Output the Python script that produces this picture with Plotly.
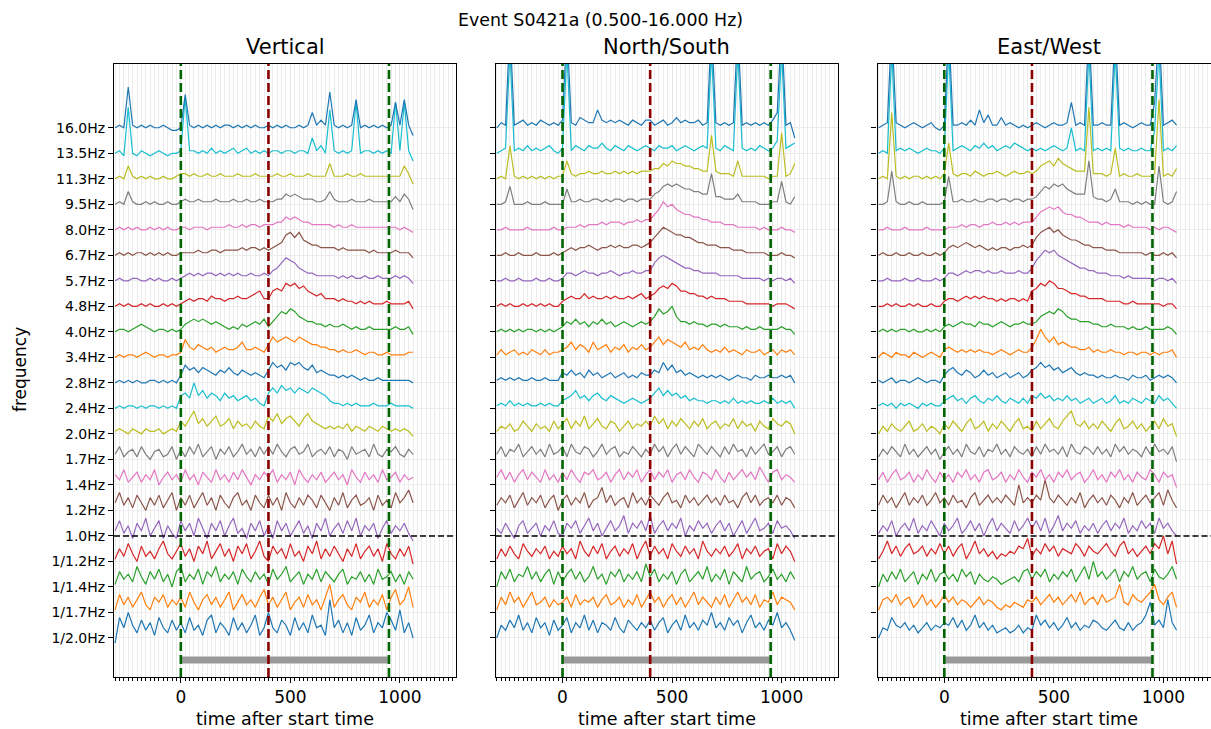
import plotly.graph_objects as go

# ---------------- data ----------------
TIME = list(range(-300, 1061, 20))  # sample times (s after start), 69 samples
FREQ_LABELS = ["1/2.0Hz", "1/1.7Hz", "1/1.4Hz", "1/1.2Hz", "1.0Hz", "1.2Hz", "1.4Hz",
               "1.7Hz", "2.0Hz", "2.4Hz", "2.8Hz", "3.4Hz", "4.0Hz", "4.8Hz", "5.7Hz",
               "6.7Hz", "8.0Hz", "9.5Hz", "11.3Hz", "13.5Hz", "16.0Hz"]
ONE_HZ_INDEX = 4
EVENT_TIMES = [0, 400, 950]
EVENT_COLORS = ["#006400", "#8b0000", "#006400"]
BAR_START, BAR_END = 0, 950
PANEL_TITLES = ["Vertical", "North/South", "East/West"]
SUPTITLE = "Event S0421a (0.500-16.000 Hz)"

# envelope values in tenths of the trace spacing, one list per frequency band
# ---- Vertical ----
V00 = [-2,8,4,10,5,2,7,3,6,1,8,4,2,7,3] + [6,2,8,3,5,1,7,9,2,6,4,1,8,3,6,2,5,9,1,4] + [10,4,2,7,5,1,8,3,6,2,9,4,5,1,15] + [4,7,2,6,1,8,3,5,9,2,6,4,10,7,3,11,2,6,0]
V01 = [1,7,3,6,2,5,8,3,1,6,4,7,2,5,3] + [6,2,8,4,1,5,7,3,6,2,5,8,1,4,7,3,5,2,6,9] + [3,6,2,5,8,1,4,6,2,7,3,5,1,6,11] + [2,5,7,3,1,6,4,8,2,5,3,7,1,6,9,3,5,10,2]
V02 = [1,6,3,5,2,8,4,1,6,3,7,2,5,0,6] + [8,2,5,3,7,1,6,4,8,2,5,3,6,1,7,4,2,6,3,5] + [1,7,3,5,8,2,4,6,1,5,3,7,2,6,4] + [2,5,7,1,4,3,6,2,5,1,7,3,4,6,2,5,1,6,3]
V03 = [1,5,2,7,3,0,6,2,4,1,5,8,3,1,4] + [7,2,5,0,6,3,8,1,4,7,2,5,0,6,3,7,1,4,8,2] + [0,6,3,5,1,7,2,4,0,6,3,8,1,5,2] + [6,3,0,5,2,7,1,4,6,2,5,0,7,3,1,5,2,6,-1]
V04 = [2,6,1,4,-1,5,2,7,0,3,6,-1,4,1,-1] + [6,2,5,0,7,3,-1,5,2,6,0,4,7,1,3,-1,5,2,6,0] + [4,-1,6,2,5,0,3,6,1,4,-1,5,2,7,0] + [3,5,1,6,2,7,0,4,2,5,-1,3,6,1,4,2,5,1,-2]
V05 = [3,7,2,5,1,6,3,0,5,2,6,1,4,7,0] + [5,2,6,1,4,7,2,5,0,6,3,1,5,7,2,4,0,6,3,1] + [6,2,5,0,7,3,1,5,2,6,4,1,6,3,0] + [5,2,7,1,4,6,2,3,5,0,6,2,4,1,7,3,5,8,3]
V06 = [4,2,6,1,3,5,1,4,2,6,0,3,5,2,4] + [1,6,2,4,0,5,3,1,6,2,4,1,5,2,6,3,0,4,2,5] + [3,6,1,4,2,5,0,6,3,1,4,2,5,1,3] + [5,2,4,0,6,3,1,5,2,4,1,6,2,3,5,1,4,2,3]
V07 = [2,5,1,3,4,1,5,2,0,3,4,1,2,5,0] + [4,1,5,2,6,1,3,5,0,4,2,5,1,3,6,2,4,1,5,2] + [5,2,6,3,1,4,5,2,3,6,1,3,4,2,5] + [1,4,3,0,5,2,3,4,1,6,2,1,4,3,5,2,1,4,2]
V08 = [1,2,1,0,2,1,0,2,1,1,2,0,1,2,1] + [5,3,6,9,4,6,3,5,7,3,4,6,2,5,3,4,2,5,3,2] + [7,5,8,4,6,7,5,3,6,8,5,4,3,2,3] + [2,3,2,4,1,3,2,1,3,2,1,3,2,1,2,1,2,1,-1]
V09 = [0,1,0,1,1,0,1,0,1,1,0,1,0,1,0] + [5,6,4,10,5,7,4,6,5,3,6,4,5,3,4,5,3,4,2,1] + [6,8,6,9,7,8,6,8,7,6,8,7,6,5,3] + [2,2,1,2,1,2,1,1,1,2,1,1,1,2,1,1,1,1,0]
V10 = [0,1,0,1,0,1,0,0,1,1,0,1,0,1,0] + [3,7,5,6,4,6,5,4,3,5,4,6,4,3,5,4,3,4,3,2] + [5,8,6,7,5,8,7,8,6,5,7,4,5,4,3] + [3,2,3,2,3,2,1,2,1,1,2,1,1,1,1,1,1,1,0]
V11 = [0,1,0,1,1,0,1,2,1,0,1,1,0,1,1] + [2,7,4,3,5,4,3,4,2,3,4,3,3,4,6,3,3,4,3,2] + [5,8,6,7,8,7,6,8,7,6,5,5,4,4,3] + [3,2,3,2,2,3,2,1,2,2,1,1,2,1,1,1,1,2,2]
V12 = [0,1,1,0,1,2,3,2,1,0,1,1,0,1,0] + [1,3,4,5,4,5,4,3,4,3,2,1,2,1,3,2,3,4,3,5] + [2,4,6,8,7,9,8,6,5,4,4,3,3,2,3] + [2,2,3,2,1,2,1,1,2,1,1,1,1,1,2,1,1,2,-1]
V13 = [0,1,0,1,0,0,1,0,1,0,0,1,0,1,0] + [1,2,3,2,3,3,2,4,3,3,2,3,3,4,3,3,4,5,6,3] + [3,6,7,6,9,8,9,7,8,6,5,4,5,3,3] + [3,2,3,2,2,1,2,1,2,1,1,1,2,1,1,1,1,2,-1]
V14 = [0,1,0,0,1,1,0,0,1,0,1,0,0,1,0] + [1,2,3,2,3,2,3,3,2,3,2,3,2,3,2,2,3,2,2,3] + [2,4,5,7,9,8,7,5,4,3,3,2,2,2,2] + [2,1,2,1,2,1,1,2,1,1,2,1,1,1,2,1,2,1,-1]
V15 = [0,1,0,1,0,1,1,0,1,0,1,0,1,0,0] + [1,1,1,1,2,1,1,2,2,1,2,2,2,2,3,2,3,3,2,3] + [2,3,4,5,8,9,7,9,6,5,4,4,3,3,3] + [3,2,3,2,2,2,2,2,1,2,1,1,1,1,2,1,1,1,-1]
V16 = [0,1,0,1,0,1,0,0,1,0,1,0,1,0,0] + [1,1,0,1,1,1,0,1,1,1,1,2,1,1,2,1,2,2,1,2] + [2,2,3,3,5,4,5,4,3,3,2,2,2,2,2] + [1,2,1,1,2,1,1,1,1,1,1,1,1,1,1,0,1,0,-1]
V17 = [0,1,0,5,1,0,0,1,0,1,0,0,1,0,0] + [1,2,1,1,2,1,1,1,2,1,1,1,2,1,1,2,1,1,2,1] + [1,1,2,2,4,3,4,3,2,2,2,1,1,2,5] + [2,1,1,1,2,1,1,1,2,1,1,1,1,1,3,1,4,2,-2]
V18 = [0,1,0,5,1,0,1,0,1,0,0,1,0,0,1] + [2,2,1,2,1,1,2,1,1,2,1,1,1,2,1,1,1,2,1,1] + [1,1,2,1,1,2,1,1,1,2,1,1,1,1,6] + [1,1,1,2,1,1,2,1,1,1,1,1,1,1,1,1,5,2,-2]
V19 = [0,1,-1,18,0,-1,1,0,-1,0,1,0,-1,0,0] + [1,22,1,1,0,1,0,2,0,1,0,1,2,0,1,2,0,1,0,1] + [0,1,1,0,1,1,0,1,1,0,6,1,3,0,17] + [1,0,1,0,1,20,0,1,1,0,1,0,1,0,20,1,20,1,-3]
V20 = [0,1,0,16,1,0,1,0,1,0,0,1,0,-1,-1] + [0,13,1,0,1,0,1,0,1,0,1,1,0,1,0,1,0,1,0,0] + [1,0,1,0,1,0,0,1,0,1,6,1,3,1,14] + [1,0,1,0,1,11,0,1,0,1,0,1,0,1,10,1,11,1,-3]

# ---- North/South ----
N00 = [0,5,3,7,4,9,3,6,2,8,4,6,1,7,3] + [5,8,2,6,4,9,3,7,2,6,5,3,8,4,2,7,5,3,6,4] + [7,3,6,8,2,5,7,3,9,4,6,3,7,5,10] + [4,6,3,8,5,7,2,6,9,4,6,3,7,5,10,4,6,3,-1]
N01 = [1,6,3,8,4,6,2,5,8,3,4,6,2,5,3] + [4,6,2,7,3,5,4,6,2,5,7,3,4,6,2,5,3,7,2,5] + [8,4,6,2,5,7,3,6,2,5,8,3,6,4,2] + [6,3,7,2,5,8,4,6,3,7,2,5,4,8,3,6,5,4,1]
N02 = [0,6,3,7,2,5,4,8,3,6,2,5,7,1,6] + [2,5,7,3,6,2,4,8,3,5,1,6,4,7,2,5,3,6,2,9] + [4,7,2,5,3,6,1,5,7,2,4,6,3,8,2] + [5,3,7,1,6,4,2,8,3,5,6,2,4,7,3,5,2,6,3]
N03 = [1,5,2,6,3,1,7,4,2,5,3,6,1,4,2] + [6,3,5,1,8,4,2,6,3,7,1,4,6,2,5,3,7,1,5,8] + [2,6,3,5,1,7,4,2,6,3,5,1,8,4,2] + [5,3,6,2,4,7,1,5,3,6,2,4,5,1,7,3,6,4,0]
N04 = [3,1,5,2,-1,4,6,1,3,5,0,4,2,6,1] + [0,5,3,6,1,4,7,2,5,0,3,6,2,4,8,1,5,3,6,2] + [8,1,4,6,2,5,3,7,0,4,2,6,3,5,1] + [4,6,2,5,0,3,6,1,4,7,2,3,5,1,6,3,4,2,-1]
N05 = [2,5,3,6,1,4,7,2,5,3,6,1,4,6,0] + [4,6,2,5,3,7,1,4,5,9,3,6,2,4,5,1,7,3,5,2] + [6,4,2,5,7,3,4,1,6,3,5,2,4,6,3] + [5,2,6,3,4,1,5,7,3,6,2,4,5,3,6,2,5,4,1]
N06 = [3,6,2,5,1,4,6,2,5,3,1,6,2,4,1] + [5,2,6,3,1,5,4,6,2,3,5,1,4,6,2,5,3,6,1,4] + [6,2,5,3,6,1,4,5,2,6,3,1,5,4,2] + [6,3,1,5,2,4,6,3,5,2,7,4,1,5,6,2,4,3,1]
N07 = [2,5,1,4,3,6,1,3,5,2,4,1,6,2,3] + [5,1,6,3,2,5,4,1,3,6,2,4,5,1,3,2,5,3,1,4] + [2,6,3,5,1,4,6,2,5,3,1,6,4,2,5] + [3,1,5,2,6,3,4,1,5,2,4,6,2,3,5,1,4,5,2]
N08 = [1,3,2,4,1,2,5,3,1,4,2,3,1,5,2] + [4,6,2,5,3,7,2,4,6,3,2,5,4,1,3,5,2,4,3,5] + [3,7,4,6,2,5,3,6,4,2,5,3,6,2,4] + [5,2,4,3,6,2,5,3,4,1,5,3,2,6,4,3,5,4,0]
N09 = [1,2,1,3,1,2,1,2,1,1,2,1,2,1,1] + [3,4,5,7,4,5,3,5,6,4,3,5,4,3,2,3,4,3,2,3] + [4,6,8,5,7,5,6,4,5,3,4,3,3,2,3] + [3,2,3,2,4,2,3,2,3,2,2,3,2,4,2,3,2,3,0]
N10 = [1,2,1,2,1,2,1,1,2,1,1,2,1,1,1] + [4,3,5,3,4,2,5,3,4,2,3,4,2,3,4,2,3,2,4,3] + [3,5,4,8,5,7,4,5,3,4,3,2,3,2,3] + [2,3,2,1,2,3,2,2,1,3,2,2,3,2,2,3,2,3,0]
N11 = [1,3,1,2,3,1,2,1,3,2,1,3,1,2,2] + [3,4,6,3,5,4,2,6,3,4,5,2,4,3,5,2,4,3,5,3] + [4,6,8,5,7,6,5,4,6,3,4,3,5,3,2] + [3,2,4,2,3,2,1,3,2,2,3,1,2,3,1,3,2,3,1]
N12 = [0,1,0,1,0,1,0,1,1,0,1,0,1,0,1] + [2,4,3,5,3,4,2,4,3,5,3,4,2,3,4,3,2,3,4,3] + [4,6,9,7,8,10,6,4,4,3,4,3,3,2,3] + [3,2,3,2,2,2,1,2,1,1,2,1,1,1,1,2,1,1,-1]
N13 = [0,1,0,1,0,0,1,0,1,0,1,0,1,0,0] + [2,3,4,3,3,5,3,4,3,3,4,3,4,3,3,4,3,4,5,3] + [4,5,7,8,7,9,8,6,6,5,5,4,4,3,4] + [3,3,3,2,2,2,2,1,1,1,1,1,1,0,1,1,1,0,-1]
N14 = [0,0,1,0,0,1,0,0,0,1,0,0,1,0,0] + [1,3,3,2,3,4,3,3,2,3,3,4,3,2,3,3,4,3,3,4] + [4,7,9,10,9,8,7,6,5,5,4,4,3,3,3] + [3,2,2,2,2,2,1,1,1,1,1,0,1,0,1,1,0,1,-1]
N15 = [0,0,1,0,0,1,0,0,0,1,0,0,0,1,0] + [1,2,3,2,3,3,4,3,2,3,3,4,3,4,3,3,4,4,3,4] + [5,7,9,11,10,9,8,8,7,7,6,5,5,4,4] + [4,3,3,3,2,2,2,1,1,1,1,1,0,0,0,1,0,0,-1]
N16 = [0,0,1,0,0,0,0,1,0,0,0,0,0,1,0] + [0,1,1,1,2,1,2,2,2,3,2,3,3,3,2,3,3,4,3,4] + [4,6,8,11,9,10,8,7,6,6,5,5,4,4,3] + [3,3,2,2,2,1,1,1,1,1,0,1,0,0,0,1,0,0,-1]
N17 = [0,0,1,7,0,0,0,1,0,0,0,1,0,0,0] + [0,6,1,1,2,1,1,2,2,1,2,1,2,2,1,2,2,1,2,2] + [2,4,5,7,8,7,8,7,6,6,5,5,4,4,12] + [3,3,2,2,2,4,1,1,1,1,0,0,0,1,1,9,1,0,3]
N18 = [0,1,0,13,1,0,1,0,1,0,1,0,1,0,1] + [1,7,2,1,2,2,3,2,2,3,2,2,3,2,3,2,3,2,3,3] + [3,4,4,6,5,7,6,6,5,5,4,4,3,3,17] + [3,2,2,2,1,7,1,1,1,1,1,1,0,1,1,18,1,2,6]
N19 = [0,1,2,40,1,2,1,3,1,2,1,2,3,1,0] + [2,40,1,3,2,1,3,2,2,4,2,1,3,2,1,3,2,1,2,3] + [2,1,3,2,2,3,1,2,3,2,1,2,3,2,40] + [2,1,3,2,1,40,2,1,2,1,3,2,1,2,5,40,2,3,4]
N20 = [0,2,1,40,1,2,3,1,2,1,3,2,1,2,1] + [3,40,2,1,4,3,2,2,7,3,2,3,2,3,2,1,3,2,1,3] + [3,1,2,3,1,2,4,2,3,2,2,3,1,2,40] + [2,1,2,1,2,40,1,2,1,2,1,2,1,3,6,40,1,2,-4]

# ---- East/West ----
E00 = [0,4,3,8,5,4,6,3,5,2,4,6,3,5,4] + [6,5,8,4,7,3,5,9,4,6,3,5,2,3,4,2,3,5,2,4] + [3,9,5,7,4,6,3,5,8,4,6,3,5,4,7] + [6,4,3,5,7,4,3,6,3,5,6,9,14,5,7,4,15,6,3]
E01 = [1,5,6,4,7,3,5,6,2,4,7,3,5,2,4] + [7,4,6,3,5,4,2,4,6,3,5,4,2,1,3,2,4,3,2,5] + [4,6,3,5,7,4,6,3,5,7,4,8,3,5,6] + [3,7,4,5,6,11,4,3,7,5,4,6,8,11,5,3,6,8,2]
E02 = [0,5,2,6,3,7,2,4,6,1,5,3,7,2,5] + [6,3,5,2,7,4,6,1,5,3,2,4,3,1,2,3,4,2,6,7] + [3,6,4,7,2,5,3,6,4,7,2,5,8,3,10] + [4,6,3,5,7,2,6,4,8,3,5,6,2,7,4,3,5,8,3]
E03 = [1,4,8,3,6,2,5,7,3,4,6,2,5,3,7] + [3,6,2,5,7,1,4,8,3,5,2,4,1,3,2,4,3,6,5,9] + [2,5,3,7,4,6,2,5,4,3,7,5,2,6,4] + [3,5,7,4,2,6,8,3,5,2,4,6,3,7,5,10,3,8,-1]
E04 = [1,4,2,6,0,3,5,2,7,1,4,2,6,3,0] + [5,2,4,7,1,3,6,2,5,0,4,7,2,5,3,1,6,2,4,7] + [3,6,2,7,1,4,8,2,5,3,6,1,4,2,5] + [1,4,6,2,5,3,7,1,4,2,6,3,5,1,7,3,5,2,0]
E05 = [2,6,3,5,1,4,7,2,5,3,6,2,4,7,3] + [5,2,6,3,4,1,5,7,2,4,6,3,5,3,6,4,2,10,3,5] + [3,6,4,12,5,3,6,4,2,5,3,7,1,4,6] + [3,5,2,6,4,1,5,3,7,2,4,6,3,5,7,2,8,4,1]
E06 = [2,5,1,4,6,2,3,5,1,4,2,6,3,1,5] + [2,4,1,5,3,6,2,4,1,5,6,2,3,5,1,4,2,6,3,1] + [5,3,6,2,4,1,5,3,6,2,4,5,1,3,6] + [2,4,1,5,3,6,2,4,1,5,3,2,6,4,1,5,3,4,-1]
E07 = [1,4,2,5,3,1,6,2,4,1,3,5,2,4,0] + [3,5,2,4,1,6,3,2,5,1,4,3,6,2,4,1,5,3,2,4] + [1,5,2,6,3,4,2,5,1,6,3,2,5,4,2] + [5,2,4,1,6,3,5,2,4,3,1,5,2,6,3,4,2,5,-1]
E08 = [0,3,1,4,2,1,3,5,1,2,4,1,3,2,0] + [4,2,5,3,1,4,6,2,3,5,1,4,2,5,3,1,4,6,2,3] + [1,5,2,4,6,3,2,5,7,9,4,3,5,2,4] + [2,5,3,1,4,6,2,3,5,2,4,1,3,5,2,6,3,4,-1]
E09 = [1,2,1,2,0,2,1,2,1,0,2,1,2,1,1] + [3,4,5,3,4,2,4,5,3,2,4,3,5,3,2,4,3,2,4,2] + [5,4,6,4,5,3,4,3,5,3,4,2,3,4,2] + [3,4,2,3,5,2,3,2,4,3,2,4,3,2,5,3,4,2,0]
E10 = [1,0,1,2,0,1,1,0,1,2,1,0,1,1,0] + [3,5,6,4,3,5,4,2,3,5,3,4,2,3,4,2,3,4,2,3] + [5,6,8,6,7,5,6,4,5,6,4,3,4,3,3] + [2,3,2,2,3,2,2,1,3,2,2,3,1,2,3,2,3,2,0]
E11 = [0,2,1,0,2,1,1,0,2,1,0,1,2,1,0] + [3,4,3,2,3,2,3,2,3,2,2,1,2,3,2,1,2,3,2,2] + [4,7,11,8,6,8,5,6,5,4,4,3,3,4,2] + [3,2,2,3,2,2,1,2,2,1,2,2,1,2,1,2,2,3,0]
E12 = [0,1,0,1,0,1,1,0,1,0,0,1,0,1,0] + [2,3,2,3,4,3,3,2,4,3,3,2,3,4,3,2,3,3,4,3] + [3,4,6,7,8,7,9,8,6,5,5,4,4,4,3] + [3,2,2,3,2,2,2,1,2,1,1,2,1,1,1,1,2,1,-1]
E13 = [0,0,1,0,1,0,0,1,0,1,0,0,1,0,0] + [2,3,3,2,3,4,3,4,3,4,3,3,2,3,2,3,3,2,3,2] + [6,7,9,8,10,9,7,7,6,5,5,4,4,3,3] + [3,3,2,2,2,2,1,1,2,1,1,1,1,1,1,0,1,1,-1]
E14 = [0,0,1,0,0,0,1,0,0,1,0,0,0,1,0] + [1,3,3,2,3,4,3,4,4,3,4,3,3,4,3,3,3,4,3,3] + [5,8,10,12,11,12,10,9,8,7,6,5,5,4,4] + [3,3,3,2,2,2,1,2,1,1,1,1,1,0,1,1,0,1,-1]
E15 = [0,1,0,0,1,0,0,1,0,0,1,0,0,1,0] + [1,3,4,3,4,5,4,3,4,3,2,3,2,3,3,2,3,3,4,3] + [4,7,9,10,11,9,10,8,7,6,6,5,4,4,3] + [3,3,2,2,2,1,1,1,1,1,1,0,1,0,0,1,0,1,-1]
E16 = [0,0,1,0,0,0,1,0,0,0,0,1,0,0,0] + [0,1,1,1,2,1,2,2,1,2,2,3,2,2,3,2,3,2,3,3] + [3,5,7,8,9,8,9,7,6,6,5,5,4,3,3] + [3,2,3,2,2,2,1,2,1,1,1,1,0,1,0,1,1,0,-1]
E17 = [0,0,1,13,1,0,0,1,0,0,1,0,0,0,0] + [1,11,1,1,2,1,1,2,1,1,2,2,1,2,2,1,2,2,1,2] + [2,3,5,7,6,8,7,8,6,5,4,4,4,17,3] + [2,2,1,2,6,1,1,1,0,1,0,1,0,0,15,1,0,1,5]
E18 = [0,1,0,26,1,0,1,0,1,1,0,1,0,1,0] + [2,14,2,1,2,2,1,3,2,1,2,2,3,2,1,2,3,2,2,3] + [2,3,5,6,7,5,8,6,5,4,3,3,3,28,2] + [2,2,1,2,12,1,2,1,1,2,1,1,1,2,31,1,2,1,4]
E19 = [0,1,0,40,1,2,1,2,1,0,1,2,1,1,0] + [2,40,1,2,3,2,1,3,2,4,2,3,1,2,3,2,4,3,2,1] + [2,1,2,1,2,3,2,1,2,10,1,2,1,40,1] + [2,1,2,1,40,2,1,2,1,1,2,1,1,9,40,1,2,1,3]
E20 = [0,1,2,40,2,1,0,1,2,1,0,1,2,0,-1] + [1,40,1,1,2,1,3,1,7,2,5,1,1,4,1,2,1,0,1,0] + [1,2,1,0,1,2,1,1,2,10,1,2,1,40,1] + [1,2,1,1,40,1,2,1,0,1,2,1,1,10,40,1,2,3,1]

VERTICAL = [V00, V01, V02, V03, V04, V05, V06, V07, V08, V09, V10,
            V11, V12, V13, V14, V15, V16, V17, V18, V19, V20]
NORTHSOUTH = [N00, N01, N02, N03, N04, N05, N06, N07, N08, N09, N10,
              N11, N12, N13, N14, N15, N16, N17, N18, N19, N20]
EASTWEST = [E00, E01, E02, E03, E04, E05, E06, E07, E08, E09, E10,
            E11, E12, E13, E14, E15, E16, E17, E18, E19, E20]

bad = [(p, i, len(r)) for p, rows in (("V", VERTICAL), ("N", NORTHSOUTH), ("E", EASTWEST))
       for i, r in enumerate(rows) if len(r) != len(TIME)]
assert not bad, f"length mismatch: {bad}"

# ---------------- styling ----------------
TAB10 = ["#1f77b4", "#ff7f0e", "#2ca02c", "#d62728", "#9467bd",
         "#8c564b", "#e377c2", "#7f7f7f", "#bcbd22", "#17becf"]
W, H = 1211, 729
FONT = "DejaVu Sans"
X_RANGE = [-305, 1256]
PX_PER_UNIT = 342 / (X_RANGE[1] - X_RANGE[0])
Y_RANGE = [-1.53, 22.5]
BAR_LEVEL = -0.86
PANEL_LEFT_PX = [114, 495.7, 877.5]
PANEL_W_PX = 342
Y_DOM = [1 - 677 / H, 1 - 64 / H]

fig = go.Figure()
panels = [VERTICAL, NORTHSOUTH, EASTWEST]
for p, rows in enumerate(panels):
    xa = "x" if p == 0 else f"x{p+1}"
    ya = "y" if p == 0 else f"y{p+1}"
    for i, row in enumerate(rows):
        fig.add_trace(go.Scatter(
            x=TIME, y=[i + v / 10 for v in row], mode="lines",
            line=dict(color=TAB10[i % 10], width=1.2),
            xaxis=xa, yaxis=ya, showlegend=False, hoverinfo="skip"))
    fig.add_trace(go.Scatter(
        x=[BAR_START, BAR_END], y=[BAR_LEVEL, BAR_LEVEL], mode="lines",
        line=dict(color="#999999", width=7), xaxis=xa, yaxis=ya,
        showlegend=False, hoverinfo="skip"))
    for t, c in zip(EVENT_TIMES, EVENT_COLORS):
        fig.add_shape(type="line", xref=xa, yref=f"{ya} domain", x0=t, x1=t, y0=0, y1=1,
                      line=dict(color=c, width=2.6, dash="9px,4px"))
    fig.add_shape(type="line", xref=f"{xa} domain", yref=ya, x0=0, x1=1,
                  y0=ONE_HZ_INDEX, y1=ONE_HZ_INDEX,
                  line=dict(color="black", width=1.4, dash="6px,3px"))

    left = PANEL_LEFT_PX[p]
    right = left + PANEL_W_PX
    xr = list(X_RANGE)
    if right > W:
        xr[1] = X_RANGE[0] + (W - left) / PX_PER_UNIT
        right = W
    xkey = "xaxis" if p == 0 else f"xaxis{p+1}"
    ykey = "yaxis" if p == 0 else f"yaxis{p+1}"
    fig.layout[xkey] = dict(
        domain=[left / W, right / W], range=xr, anchor=ya,
        tickvals=[0, 500, 1000], ticks="outside", ticklen=5, tickwidth=1, tickcolor="black",
        showgrid=True, gridcolor="#e6e6e6", gridwidth=0.6,
        minor=dict(dtick=20, tick0=0, ticks="outside", ticklen=3, tickcolor="black",
                   showgrid=True, gridcolor="#ececec", gridwidth=0.6),
        showline=True, linecolor="black", linewidth=1.1, mirror=True,
        zeroline=False, tickfont=dict(family=FONT, size=17, color="black"))
    fig.layout[ykey] = dict(
        domain=Y_DOM, range=Y_RANGE, anchor=xa,
        tickvals=list(range(len(FREQ_LABELS))), ticktext=FREQ_LABELS,
        showticklabels=(p == 0), ticks="outside", ticklen=5, tickwidth=1, tickcolor="black",
        showgrid=True, gridcolor="#ececec", gridwidth=0.6,
        showline=True, linecolor="black", linewidth=1.1, mirror=(p < 2),
        zeroline=False, tickfont=dict(family=FONT, size=14, color="black"))

annotations = [dict(text=SUPTITLE, x=600 / W, y=1 - 20 / H, xref="paper", yref="paper",
                    showarrow=False, xanchor="center", yanchor="middle",
                    font=dict(family=FONT, size=17.4, color="black"))]
for p, title in enumerate(PANEL_TITLES):
    cx = (PANEL_LEFT_PX[p] + PANEL_W_PX / 2) / W
    annotations.append(dict(text=title, x=cx, y=1 - 47 / H, xref="paper", yref="paper",
                            showarrow=False, xanchor="center", yanchor="middle",
                            font=dict(family=FONT, size=21, color="black")))
    annotations.append(dict(text="time after start time", x=cx, y=1 - 719 / H,
                            xref="paper", yref="paper", showarrow=False,
                            xanchor="center", yanchor="middle",
                            font=dict(family=FONT, size=17.5, color="black")))
annotations.append(dict(text="frequency", x=20 / W, y=1 - 370 / H, xref="paper", yref="paper",
                        showarrow=False, textangle=-90, xanchor="center", yanchor="middle",
                        font=dict(family=FONT, size=17, color="black")))

fig.update_layout(width=W, height=H, margin=dict(l=0, r=0, t=0, b=0),
                  plot_bgcolor="white", paper_bgcolor="white",
                  annotations=annotations, showlegend=False,
                  font=dict(family=FONT, color="black"))

fig.write_html("out.html", config={"displayModeBar": False},
               post_script="document.body.style.margin='0';document.body.style.overflow='hidden';")
